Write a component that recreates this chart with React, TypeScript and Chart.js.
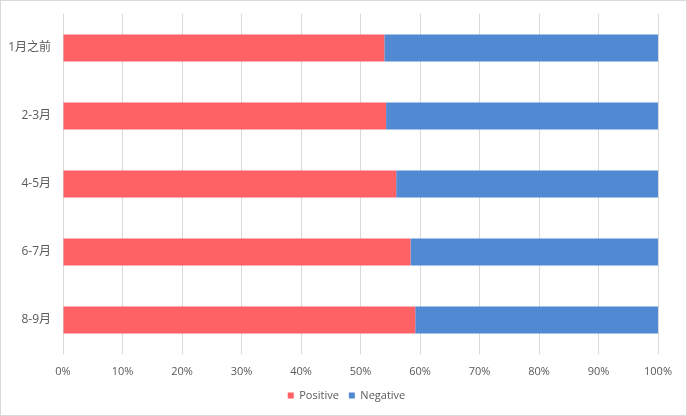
import { useEffect, useRef } from "react"
import { Chart, registerables } from "chart.js"

Chart.register(...registerables)

const categories = ["1月之前", "2-3月", "4-5月", "6-7月", "8-9月"]
const positiveValues = [54.0, 54.3, 56.0, 58.4, 59.2]
const negativeValues = [46.0, 45.7, 44.0, 41.6, 40.8]
const xTicks = [0, 10, 20, 30, 40, 50, 60, 70, 80, 90, 100]

const FONT = "'Open Sans', 'Noto Sans CJK SC', sans-serif"
const TEXT = "#595959"

// nudge the legend a bit left, so it sits where Excel put it
const legendShift = {
  id: "legendShift",
  afterLayout(chart: Chart) {
    const legend = chart.legend
    if (!legend) return
    legend.left -= 14
    legend.right -= 14
  },
}

function StackedBar() {
  const chartRef = useRef<HTMLCanvasElement>(null)
  const chartInstance = useRef<Chart | null>(null)

  useEffect(() => {
    if (!chartRef.current) return
    document.body.style.margin = "0"

    if (chartInstance.current) {
      chartInstance.current.destroy()
    }

    const ctx = chartRef.current.getContext("2d")
    if (!ctx) return

    chartInstance.current = new Chart(ctx, {
      type: "bar",
      data: {
        labels: categories,
        datasets: [
          {
            label: "Positive",
            data: positiveValues,
            backgroundColor: "#ff6264",
            borderWidth: 0,
            barPercentage: 0.4,
            categoryPercentage: 1,
          },
          {
            label: "Negative",
            data: negativeValues,
            backgroundColor: "#518ad3",
            borderWidth: 0,
            barPercentage: 0.4,
            categoryPercentage: 1,
          },
        ],
      },
      options: {
        indexAxis: "y",
        animation: false,
        responsive: true,
        maintainAspectRatio: false,
        layout: {
          padding: { top: 13, right: 28, left: 0, bottom: 4 },
        },
        scales: {
          x: {
            stacked: true,
            min: 0,
            max: 100,
            afterBuildTicks: (scale) => {
              scale.ticks = xTicks.map((v) => ({ value: v }))
            },
            afterFit: (scale) => {
              scale.height = 26
            },
            ticks: {
              padding: 11,
              color: TEXT,
              font: { family: FONT, size: 11 },
              callback: (value) => value + "%",
            },
            grid: {
              color: "#d9d9d9",
              drawTicks: false,
            },
            border: { display: false },
          },
          y: {
            stacked: true,
            afterFit: (scale) => {
              // fixed axis width, and no extra room for the end labels
              scale.width = 62
              scale.paddingTop = 0
              scale.paddingBottom = 0
            },
            ticks: {
              padding: 12,
              color: TEXT,
              font: { family: FONT, size: 12 },
            },
            grid: {
              display: false,
              drawTicks: false,
            },
            border: { display: false },
          },
        },
        plugins: {
          legend: {
            position: "bottom",
            fullSize: false,
            labels: {
              boxWidth: 6,
              boxHeight: 6,
              padding: 10,
              color: TEXT,
              font: { family: FONT, size: 11 },
            },
          },
          tooltip: { enabled: false },
        },
      },
      plugins: [legendShift],
    })

    return () => {
      if (chartInstance.current) {
        chartInstance.current.destroy()
        chartInstance.current = null
      }
    }
  }, [])

  return (
    <div
      style={{
        width: 687,
        height: 416,
        border: "1px solid #d9d9d9",
        boxSizing: "border-box",
        background: "#fff",
      }}
    >
      <div style={{ position: "relative", width: 685, height: 414 }}>
        <canvas ref={chartRef} />
      </div>
    </div>
  )
}

export default function App() {
  return <StackedBar />
}
